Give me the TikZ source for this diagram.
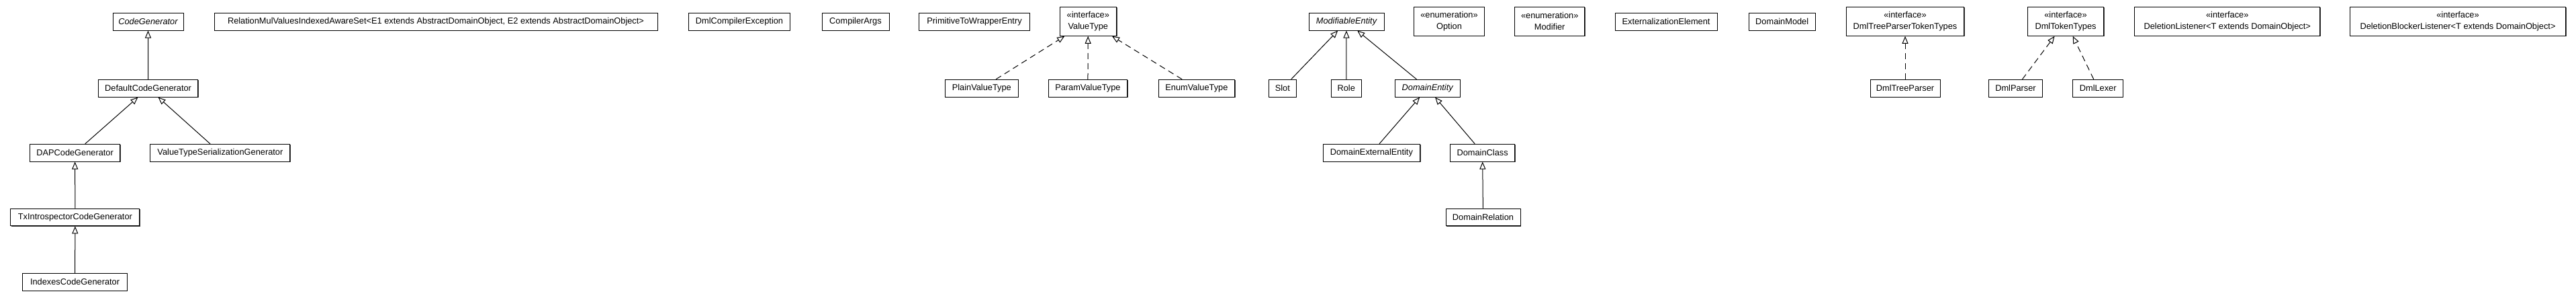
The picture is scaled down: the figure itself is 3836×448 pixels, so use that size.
\documentclass[tikz,border=0pt]{standalone}
\usepackage{fontspec}
\setmainfont{Liberation Sans}
\usetikzlibrary{arrows.meta,shadows}
\tikzset{
  umlbox/.style={draw, line width=1pt, fill=white, inner xsep=2pt, inner ysep=0pt,
    minimum height=25.7pt, align=center,
    font=\fontsize{12.8}{17}\selectfont,
    drop shadow={shadow xshift=0.9pt, shadow yshift=-0.9pt, opacity=1, fill=black!75}},
  ifbox/.style={umlbox, minimum height=43pt},
  gen/.style={line width=1pt, -{Triangle[open, length=11pt, width=9pt, line width=1pt]}},
  real/.style={gen, dash pattern=on 9pt off 6pt},
}
\begin{document}
\begin{tikzpicture}[x=1pt,y=-1pt]
\useasboundingbox[fill=white] (0,0) rectangle (3836,448);
% row 1
\node[umlbox, minimum width=105pt] (cg) at (220.5,32.2) {\itshape CodeGenerator};
\node[umlbox, minimum width=660pt] (rel) at (649,32.2) {RelationMulValuesIndexedAwareSet<E1 extends AbstractDomainObject, E2 extends AbstractDomainObject>};
\node[umlbox, minimum width=151pt] (dce) at (1101,32.2) {DmlCompilerException};
\node[umlbox, minimum width=100pt] (ca) at (1274,32.2) {CompilerArgs};
\node[umlbox, minimum width=164.6pt] (ptw) at (1451,32.2) {PrimitiveToWrapperEntry};
\node[ifbox, minimum width=84.6pt] (vt) at (1620.3,31.8) {«interface»\\ValueType};
\node[umlbox, minimum width=112pt] (me) at (2005,32.2) {\itshape ModifiableEntity};
\node[ifbox, minimum width=104.5pt] (opt) at (2158,31.8) {«enumeration»\\Option};
\node[ifbox, minimum width=104pt] (mod) at (2307.7,31.8) {«enumeration»\\Modifier};
\node[umlbox, minimum width=152pt] (ee) at (2481,32.2) {ExternalizationElement};
\node[umlbox, minimum width=99.4pt] (dm) at (2653.7,32.2) {DomainModel};
\node[ifbox, minimum width=175.3pt] (dtptt) at (2837,31.8) {«interface»\\DmlTreeParserTokenTypes};
\node[ifbox, minimum width=113.4pt] (dtt) at (3076,31.8) {«interface»\\DmlTokenTypes};
\node[ifbox, minimum width=275.8pt] (dl) at (3316.7,31.8) {«interface»\\DeletionListener<T extends DomainObject>};
\node[ifbox, minimum width=321.3pt] (dbl) at (3660,31.8) {«interface»\\DeletionBlockerListener<T extends DomainObject>};
% row 2
\node[umlbox, minimum width=148pt] (dcg) at (220.6,131.2) {DefaultCodeGenerator};
\node[umlbox, minimum width=108.5pt] (pvt) at (1461.8,131.2) {PlainValueType};
\node[umlbox, minimum width=117.4pt] (parvt) at (1619.9,131.2) {ParamValueType};
\node[umlbox, minimum width=113.5pt] (evt) at (1781.9,131.2) {EnumValueType};
\node[umlbox, minimum width=41.5pt] (slot) at (1909.8,131.2) {Slot};
\node[umlbox, minimum width=45.4pt] (role) at (2004.7,131.2) {Role};
\node[umlbox, minimum width=97pt] (de) at (2125.7,131.2) {\itshape DomainEntity};
\node[umlbox, minimum width=104pt] (dtp) at (2837,131.2) {DmlTreeParser};
\node[umlbox, minimum width=80pt] (dp) at (3001.5,131.2) {DmlParser};
\node[umlbox, minimum width=74.6pt] (dlx) at (3124.2,131.2) {DmlLexer};
% row 3
\node[umlbox, minimum width=134pt] (dap) at (111.6,227.2) {DAPCodeGenerator};
\node[umlbox, minimum width=208pt] (vtsg) at (327.9,227.2) {ValueTypeSerializationGenerator};
\node[umlbox, minimum width=144.8pt] (dee) at (2042.4,227.2) {DomainExternalEntity};
\node[umlbox, minimum width=96.3pt] (dc) at (2207.6,227.2) {DomainClass};
% row 4
\node[umlbox, minimum width=192pt] (tx) at (111.9,323) {TxIntrospectorCodeGenerator};
\node[umlbox, minimum width=111pt] (dr) at (2208.5,323) {DomainRelation};
% row 5
\node[umlbox, minimum width=155.6pt] (idx) at (111.6,419.2) {IndexesCodeGenerator};
% generalizations
\draw[gen] (dcg) -- (cg);
\draw[gen] (dap) -- (dcg);
\draw[gen] (vtsg) -- (dcg);
\draw[gen] (tx) -- (dap);
\draw[gen] (idx) -- (tx);
\draw[gen] (slot) -- (me);
\draw[gen] (role) -- (me);
\draw[gen] (de) -- (me);
\draw[gen] (dee) -- (de);
\draw[gen] (dc) -- (de);
\draw[gen] (dr) -- (dc);
% realizations
\draw[real] (pvt) -- (vt);
\draw[real] (parvt) -- (vt);
\draw[real] (evt) -- (vt);
\draw[real] (dtp) -- (dtptt);
\draw[real] (dp) -- (dtt);
\draw[real] (dlx) -- (dtt);
\end{tikzpicture}
\end{document}
